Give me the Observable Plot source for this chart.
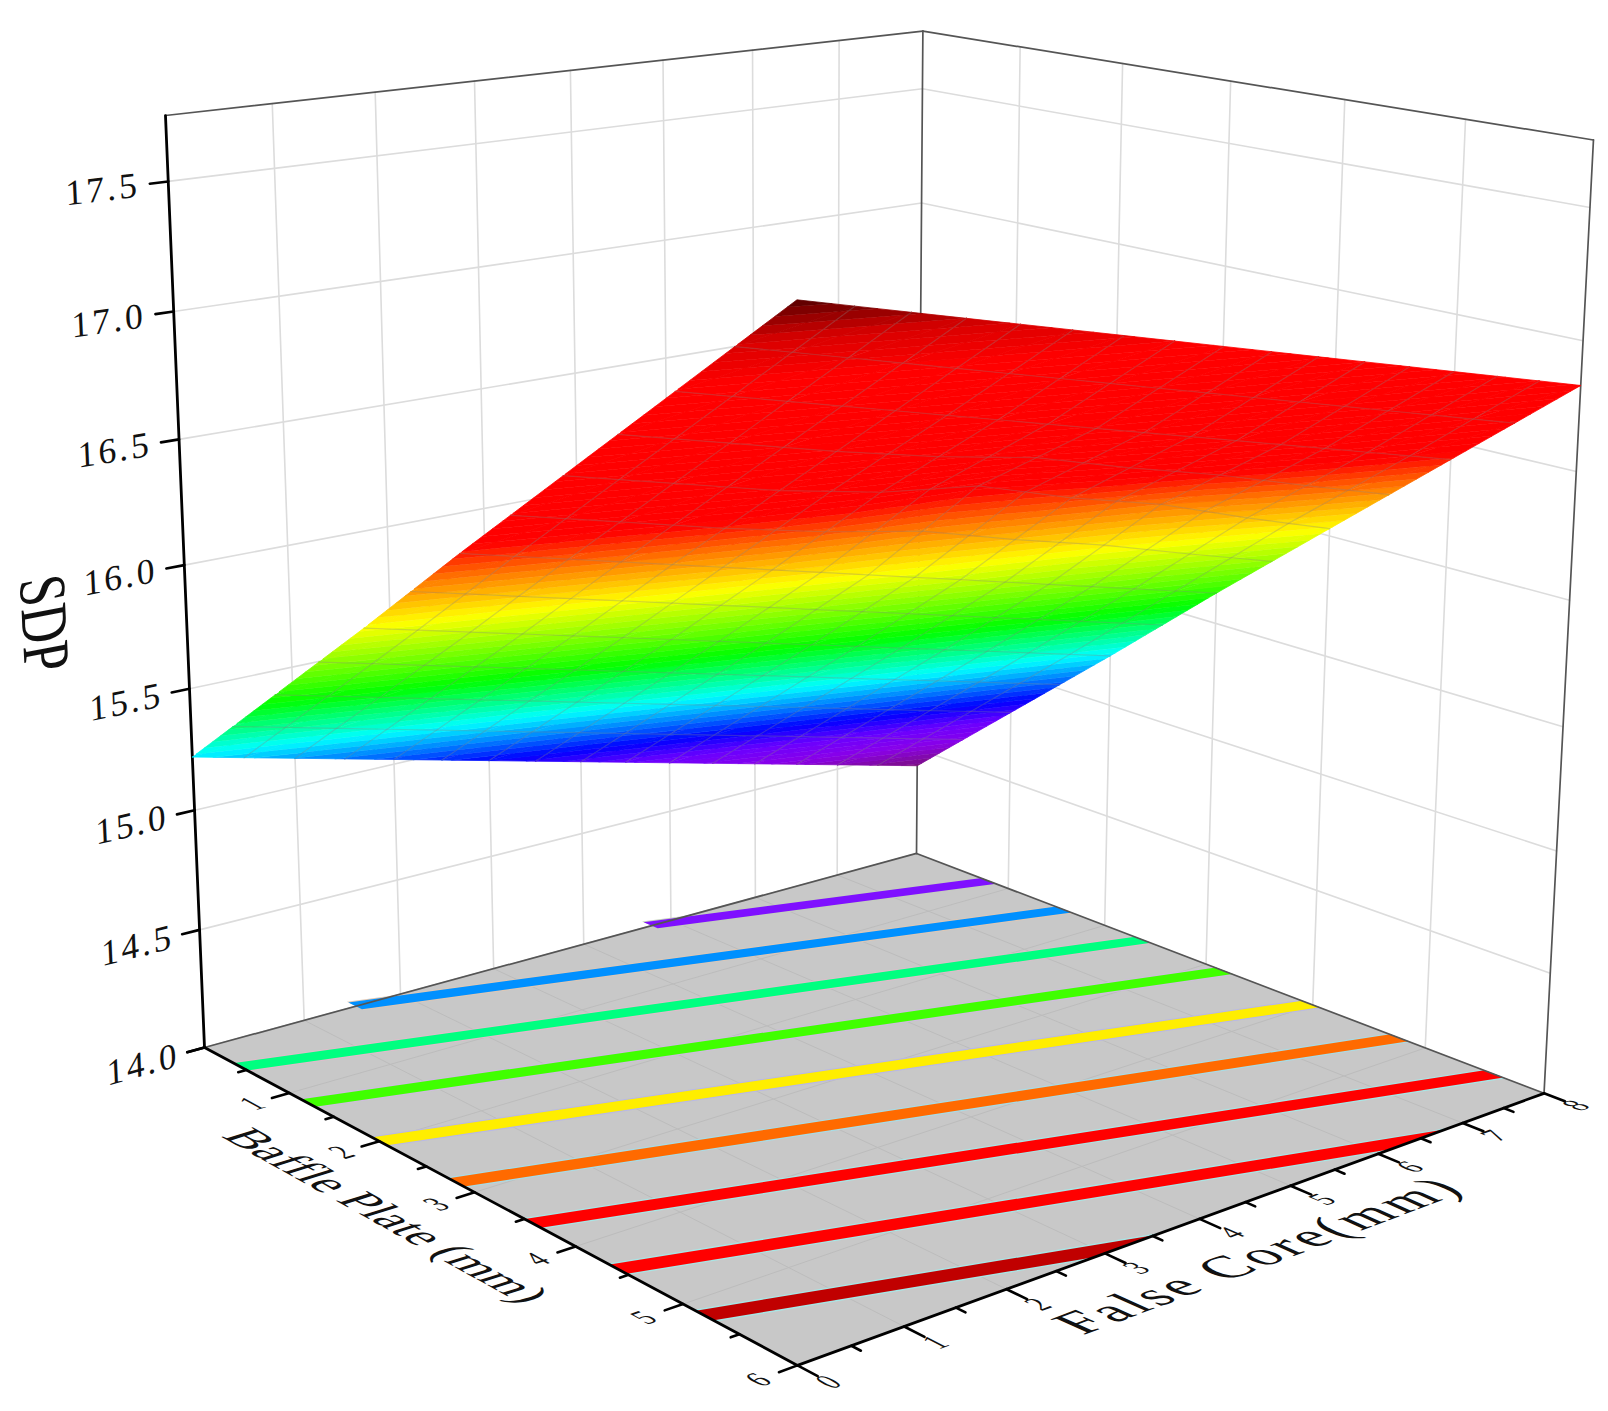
<!DOCTYPE html>
<html>
<head>
<meta charset="utf-8">
<script src="https://cdn.jsdelivr.net/npm/d3@7"></script>
<script src="https://cdn.jsdelivr.net/npm/@observablehq/plot@0.6"></script>
<style>html,body{margin:0;padding:0;background:#fff}svg{display:block}</style>
</head>
<body>
<div id="chart"></div>
<script>
// ---- data ----
const coreTicks = [0, 1, 2, 3, 4, 5, 6, 7, 8];
const baffleTicks = [0, 1, 2, 3, 4, 5, 6];
const sdpTicks = [14.0, 14.5, 15.0, 15.5, 16.0, 16.5, 17.0, 17.5];
const sdpTop = 17.75;
// SDP over False Core (columns 0..8) and Baffle Plate (rows 0..6)
const sdpRow0 = [15.22, 15.12, 15.02, 14.92, 14.82, 14.72, 14.62, 14.52, 14.42];
const sdpRow1 = [15.62, 15.52, 15.42, 15.32, 15.22, 15.12, 15.02, 14.92, 14.82];
const sdpRow2 = [16.02, 15.92, 15.82, 15.72, 15.62, 15.52, 15.42, 15.32, 15.22];
const sdpRow3 = [16.43, 16.33, 16.23, 16.13, 16.03, 15.93, 15.83, 15.73, 15.63];
const sdpRow4 = [16.83, 16.73, 16.63, 16.55, 16.50, 16.38, 16.28, 16.15, 16.03];
const sdpRow5 = [17.23, 17.13, 17.03, 16.93, 16.83, 16.73, 16.63, 16.53, 16.43];
const sdpRow6 = [17.63, 17.53, 17.43, 17.33, 17.23, 17.13, 17.03, 16.93, 16.83];
const sdpGrid = [sdpRow0, sdpRow1, sdpRow2, sdpRow3, sdpRow4, sdpRow5, sdpRow6];
// contour lines projected on the floor
const contourStartCore   = [4.77, 1.53, 0, 0, 0, 0, 0, 0, 0];
const contourStartBaffle = [0, 0, 0.44, 1.22, 2.01, 2.82, 3.59, 4.41, 5.20];
const contourEndCore     = [8, 8, 8, 8, 8, 8, 8, 6.43, 3.18];
const contourEndBaffle   = [0.80, 1.59, 2.39, 3.18, 3.99, 4.78, 5.59, 6, 6];
const contourColors = ["#7f10ff", "#0090ff", "#00ff80", "#40ff00", "#ffee00", "#ff6a00", "#ff0000", "#ff0000", "#c00000"];
const contourFringe = ["#c4d0bc", "#e0c8b4", "#e2bccc", "#d0bce0", "#b8b8e6", "#a8dce6", "#a8e6e6", "#a8e6e6", "#a8e6e6"];
// colour ramp of the surface
const rampValues = [14.42, 14.60, 14.76, 14.92, 15.24, 15.56, 16.03, 16.27, 16.47, 17.25, 17.45, 17.63];
const rampColors = ["#7c1080", "#8a00e8", "#6a00ff", "#0000ff", "#00ffff", "#00ff00", "#ffff00", "#ff8000", "#ff0000", "#ff0000", "#d80000", "#5c0000"];
const axisFont = "'Liberation Serif', 'DejaVu Serif', serif";

// ---- view of the box: floor corners and height mapped by a perspective camera ----
function P(x, y, z) {
  const a = x / 8, b = y / 6, c = (z - 14) / (sdpTop - 14);
  const w = 1 + 0.1396 * a - 0.1636 * b - 0.0611 * c;
  return [(204 + 839.9 * a + 462.6 * b - 49.1 * c) / w, (1047 - 75 * a + 94.6 * b - 939 * c) / w];
}
function sdpAt(x, y) {
  const i = Math.min(Math.floor(x), 7), j = Math.min(Math.floor(y), 5), s = x - i, t = y - j;
  return (1 - t) * ((1 - s) * sdpGrid[j][i] + s * sdpGrid[j][i + 1]) + t * ((1 - s) * sdpGrid[j + 1][i] + s * sdpGrid[j + 1][i + 1]);
}
const row = (k, p) => { const q = P(...p); return {k, u: q[0], v: q[1]}; };
const seg = (k, p, q) => [row(k, p), row(k, q)];
const rib = (p, q) => { const a = P(...p), b = P(...q); return {u1: a[0], v1: a[1], u2: b[0], v2: b[1]}; };
const xMax = coreTicks[coreTicks.length - 1], yMax = baffleTicks[baffleTicks.length - 1];

// wall grid
const wallGrid = [];
coreTicks.slice(1, -1).forEach(x => wallGrid.push(...seg("wx" + x, [x, 0, 14], [x, 0, sdpTop])));
baffleTicks.slice(1, -1).forEach(y => wallGrid.push(...seg("wy" + y, [xMax, y, 14], [xMax, y, sdpTop])));
sdpTicks.slice(1).forEach(z => {
  wallGrid.push(row("h" + z, [0, 0, z]), row("h" + z, [xMax, 0, z]), row("h" + z, [xMax, yMax, z]));
});
// floor
const floorRows = [{k: 0, ...rib([0, 0, 14], [0, yMax, 14])}, {k: 0, ...rib([xMax, 0, 14], [xMax, yMax, 14])}];
const floorGrid = [];
coreTicks.slice(1, -1).forEach(x => floorGrid.push(...seg("fx" + x, [x, 0, 14], [x, yMax, 14])));
baffleTicks.slice(1, -1).forEach(y => floorGrid.push(...seg("fy" + y, [0, y, 14], [xMax, y, 14])));
// contour ribbons
function ribbon(i, half) {
  const sx = contourStartCore[i], sy = contourStartBaffle[i], ex = contourEndCore[i], ey = contourEndBaffle[i];
  const start = rib([sx, sy - half, 14], [sx, sy + half, 14]);
  const end = ey === yMax ? rib([ex + half * 4, ey, 14], [ex - half * 4, ey, 14]) : rib([ex, ey - half, 14], [ex, ey + half, 14]);
  return [{k: i, ...start}, {k: i, ...end}];
}
const contourFringeRows = contourColors.map((_, i) => ribbon(i, 0.098));
const contourRows = contourColors.map((_, i) => ribbon(i, 0.08));
// box edges and axes
const thinEdges = [
  ...seg("a", [0, 0, sdpTop], [xMax, 0, sdpTop]), ...seg("b", [xMax, 0, sdpTop], [xMax, yMax, sdpTop]),
  ...seg("c", [xMax, 0, 14], [xMax, 0, sdpTop]), ...seg("d", [xMax, yMax, 14], [xMax, yMax, sdpTop]),
  ...seg("e", [0, 0, 14], [xMax, 0, 14]), ...seg("f", [xMax, 0, 14], [xMax, yMax, 14])
];
const axes = [
  ...seg("z", [0, 0, 14], [0, 0, sdpTop]), ...seg("y", [0, 0, 14], [0, yMax, 14]), ...seg("x", [0, yMax, 14], [xMax, yMax, 14])
];
const ticks = [];
sdpTicks.forEach(z => ticks.push(...seg("tz" + z, [0, 0, z], [-0.17, 0, z])));
baffleTicks.forEach(y => {
  ticks.push(...seg("ty" + y, [0, y, 14], [-0.17, y, 14]));
  if (y < yMax) ticks.push(...seg("my" + y, [0, y + 0.5, 14], [-0.08, y + 0.5, 14]));
});
coreTicks.forEach(x => {
  ticks.push(...seg("tx" + x, [x, yMax, 14], [x, yMax + 0.17, 14]));
  if (x < xMax) ticks.push(...seg("mx" + x, [x + 0.5, yMax, 14], [x + 0.5, yMax + 0.08, 14]));
});
// surface: the table cut into thin colour bands, triangle by triangle
const bandStep = 0.04, surface = [];
function clipBand(tri, lo, hi) {
  const clip = (pts, keep, lim) => {
    const out = [];
    pts.forEach((p, i) => {
      const q = pts[(i + 1) % pts.length], ip = keep(p[2]), iq = keep(q[2]);
      if (ip) out.push(p);
      if (ip !== iq) { const t = (lim - p[2]) / (q[2] - p[2]); out.push([p[0] + t * (q[0] - p[0]), p[1] + t * (q[1] - p[1]), lim]); }
    });
    return out;
  };
  return clip(clip(tri, z => z >= lo, lo), z => z <= hi, hi);
}
let bandId = 0;
function addTri(tri) {
  const zs = tri.map(p => p[2]);
  const first = Math.floor(Math.min(...zs) / bandStep), last = Math.floor(Math.max(...zs) / bandStep);
  for (let n = first; n <= last; n++) {
    const poly = clipBand(tri, n * bandStep, (n + 1) * bandStep);
    if (poly.length < 3) continue;
    const id = bandId++;
    poly.forEach(p => surface.push({...row(id, p), val: (n + 0.5) * bandStep}));
  }
}
for (let i = 0; i < 16; i++) for (let j = 0; j < 12; j++) {
  const x0 = i / 2, x1 = (i + 1) / 2, y0 = j / 2, y1 = (j + 1) / 2;
  const A = [x0, y0, sdpAt(x0, y0)], B = [x1, y0, sdpAt(x1, y0)], C = [x1, y1, sdpAt(x1, y1)], D = [x0, y1, sdpAt(x0, y1)];
  addTri([A, B, C]); addTri([A, C, D]);
}
const mesh = [];
for (let x = 0.5; x < 8; x += 0.5) for (let t = 0; t <= 12; t++) mesh.push(row("mx" + x, [x, t / 2, sdpAt(x, t / 2)]));
for (let y = 0.5; y < 6; y += 0.5) for (let t = 0; t <= 16; t++) mesh.push(row("my" + y, [t / 2, y, sdpAt(t / 2, y)]));
// labels placed on the planes of the box
const labels = [];
const addLabel = (text, p, base, up, sx, sy, size, ls) => {
  const a = P(...p);
  const b = P(p[0] + base[0], p[1] + base[1], p[2] + base[2]);
  const c = P(p[0] + up[0], p[1] + up[1], p[2] + up[2]);
  const nb = Math.hypot(b[0] - a[0], b[1] - a[1]), nc = Math.hypot(c[0] - a[0], c[1] - a[1]);
  labels.push({text, u: a[0], v: a[1], size, ls,
    m: [(b[0] - a[0]) / nb * sx, (b[1] - a[1]) / nb * sx, -(c[0] - a[0]) / nc * sy, -(c[1] - a[1]) / nc * sy, 0, 0]});
};
const X = [0.1, 0, 0], Y = [0, 0.1, 0], Z = [0, 0, 0.1], mY = [0, -0.1, 0], mZ = [0, 0, -0.1];
sdpTicks.forEach(z => addLabel(z.toFixed(1), [-0.6, 0, z], X, Z, 1, 1, 36, 3));
baffleTicks.slice(1).forEach(y => addLabel(String(y), [-0.36, y, 14], X, mY, 1.1, 1.35, 24, 0));
coreTicks.forEach(x => addLabel(String(x), [x, 6.26, 14], X, mY, 1.1, 1.35, 24, 0));
addLabel("Baffle Plate (mm)", [-0.78, 2.95, 14], Y, X, 1.2, 1.25, 40, 0);
addLabel("False Core(mm)", [3.87, 6.58, 14], X, mY, 1.25, 1.3, 44, 3);
addLabel("SDP", [-1.32, 0, 15.875], mZ, X, 1, 1.3, 52, 0);

const lineOf = (data, o) => Plot.line(data, {x: "u", y: "v", z: "k", ...o});
const areaOf = (data, o) => Plot.area(data, {x1: "u1", y1: "v1", x2: "u2", y2: "v2", z: "k", ...o});

const plot = Plot.plot({
  width: 1608, height: 1411, margin: 0,
  style: {background: "#fff", overflow: "visible"},
  x: {domain: [0, 1608], range: [0, 1608], axis: null},
  y: {domain: [0, 1411], range: [0, 1411], axis: null},
  color: {type: "linear", domain: rampValues, range: rampColors},
  marks: [
    lineOf(wallGrid, {stroke: "#dcdcdc", strokeWidth: 1.6}),
    areaOf(floorRows, {fill: "#c8c8c8"}),
    lineOf(floorGrid, {stroke: "#bcbcbc", strokeWidth: 1}),
    ...contourColors.map((c, i) => areaOf(contourFringeRows[i], {fill: contourFringe[i]})),
    ...contourColors.map((c, i) => areaOf(contourRows[i], {fill: c})),
    lineOf(thinEdges, {stroke: "#555", strokeWidth: 1.7}),
    lineOf(axes, {stroke: "#000", strokeWidth: 2.8}),
    lineOf(ticks, {stroke: "#000", strokeWidth: 2.6}),
    lineOf(surface, {fill: "val", stroke: "val", strokeWidth: 0.8, strokeLinejoin: "round"}),
    lineOf(mesh, {stroke: "#808080", strokeOpacity: 0.3, strokeWidth: 1.2}),
    Plot.text(labels, {x: "u", y: "v", text: "text", fontSize: "size", fontFamily: axisFont, fill: "#111",
      textAnchor: "middle", lineAnchor: "middle"})
  ]
});
d3.select(plot).selectAll("text").each(function () {
  const d = labels[this.__data__];
  if (!d) return;
  this.setAttribute("transform", `translate(${d.u},${d.v}) matrix(${d.m.join(",")})`);
  this.style.letterSpacing = d.ls + "px";
});
document.getElementById("chart").append(plot);
</script>
</body>
</html>
